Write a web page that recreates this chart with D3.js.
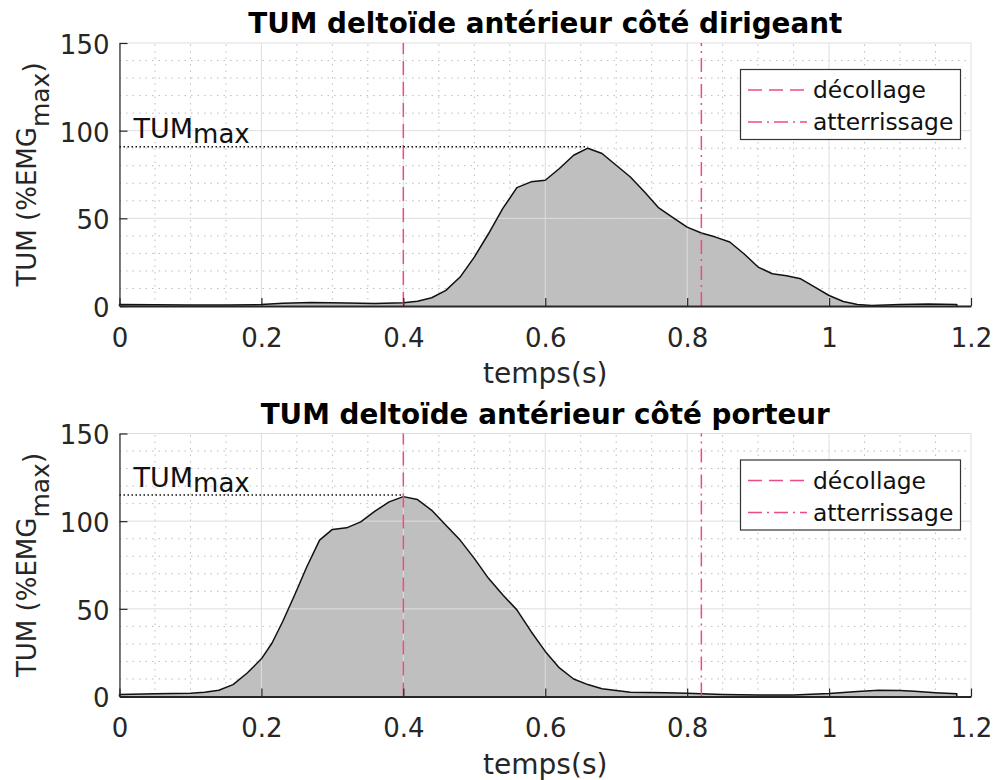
<!DOCTYPE html>
<html>
<head>
<meta charset="utf-8">
<script src="https://cdn.jsdelivr.net/npm/d3@7"></script>
<style>
  html, body { margin: 0; padding: 0; background: #fff; }
  svg { display: block; font-family: "DejaVu Sans", Verdana, sans-serif; }
</style>
</head>
<body>
<svg id="chart" width="999" height="780"></svg>
<script>
// ---- Data ----
const xTickValues = [0, 0.2, 0.4, 0.6, 0.8, 1, 1.2];
const xTickLabels = ["0", "0.2", "0.4", "0.6", "0.8", "1", "1.2"];
const yTickValues = [0, 50, 100, 150];
const yTickLabels = ["0", "50", "100", "150"];

const legendLabels = ["décollage", "atterrissage"];
const eventTimes = [0.4, 0.82];   // décollage, atterrissage (s)

const titles = ["TUM deltoïde antérieur côté dirigeant", "TUM deltoïde antérieur côté porteur"];

// Panel 1 : côté dirigeant
const timeDirigeant = [0, 0.05, 0.10, 0.15, 0.20, 0.23, 0.27, 0.32, 0.36, 0.40, 0.42, 0.44, 0.46, 0.48,
  0.50, 0.52, 0.54, 0.56, 0.58, 0.60, 0.62, 0.64, 0.66, 0.68, 0.70, 0.72, 0.74, 0.76, 0.78,
  0.80, 0.82, 0.84, 0.86, 0.88, 0.90, 0.92, 0.94, 0.96, 0.98, 1.00, 1.02, 1.04, 1.06, 1.10, 1.14, 1.18];
const tumDirigeant = [0.8, 0.7, 0.6, 0.6, 0.8, 1.5, 2.0, 1.7, 1.4, 1.8, 2.7, 4.7, 8.9, 16.5,
  27.9, 41.2, 55.5, 67.5, 70.8, 71.7, 78.4, 86.0, 90.0, 87.0, 80.3, 73.6, 65.0, 55.9, 50.4,
  45.0, 41.6, 39.3, 36.5, 29.8, 22.2, 18.4, 17.3, 15.5, 10.8, 6.0, 2.6, 0.9, 0.3, 0.9, 1.2, 0.9];

// Panel 2 : côté porteur
const timePorteur = [0, 0.05, 0.10, 0.12, 0.14, 0.16, 0.18, 0.20, 0.215, 0.23, 0.247, 0.264, 0.282,
  0.30, 0.32, 0.34, 0.36, 0.38, 0.40, 0.42, 0.44, 0.46, 0.48, 0.50, 0.52, 0.54, 0.56, 0.58,
  0.60, 0.62, 0.64, 0.66, 0.68, 0.72, 0.77, 0.80, 0.85, 0.90, 0.95, 1.00, 1.04, 1.07, 1.10, 1.12, 1.15, 1.18];
const tumPorteur = [1.1, 1.5, 1.9, 2.4, 3.6, 6.8, 13.4, 21.5, 30.5, 42.8, 58.0, 74.0, 89.2,
  95.3, 96.2, 99.6, 105.7, 111.0, 114.0, 112.3, 106.2, 97.7, 89.2, 78.8, 67.4, 58.0, 49.4, 37.1,
  25.7, 16.3, 10.0, 6.8, 4.4, 2.4, 2.1, 1.9, 1.2, 0.8, 0.8, 1.7, 2.8, 3.6, 3.4, 3.0, 2.2, 1.5];

const panels = [
  { title: titles[0], time: timeDirigeant, tum: tumDirigeant, top: 43 },
  { title: titles[1], time: timePorteur, tum: tumPorteur, top: 433.5 }
];

// ---- Layout / style ----
const plotLeft = 119.5, plotRight = 971, plotHeight = 263;
const pink = "#ee4a8a";
const axisColor = "#262626";
const svg = d3.select("#chart");

panels.forEach(p => {
  const x = d3.scaleLinear().domain([0, 1.2]).range([plotLeft, plotRight]);
  const y = d3.scaleLinear().domain([0, 150]).range([p.top + plotHeight, p.top]);
  const g = svg.append("g");
  const data = p.time.map((t, i) => ({ t, v: p.tum[i] }));

  // Area fill
  const area = d3.area().x(d => x(d.t)).y0(y(0)).y1(d => y(d.v));
  g.append("path").datum(data).attr("d", area).attr("fill", "#bfbfbf").attr("stroke", "none");

  // Minor grid
  const xMinor = d3.range(0, 1.2001, 0.05).filter(v => Math.abs(v / 0.2 - Math.round(v / 0.2)) > 1e-6);
  const yMinor = d3.range(0, 150.1, 10).filter(v => v % 50 !== 0);
  g.append("g").selectAll("line").data(xMinor).join("line")
    .attr("x1", d => x(d)).attr("x2", d => x(d)).attr("y1", y(0)).attr("y2", y(150))
    .attr("stroke", "#bdbdbd").attr("stroke-width", 1).attr("stroke-dasharray", "1.5,5");
  g.append("g").selectAll("line").data(yMinor).join("line")
    .attr("x1", x(0)).attr("x2", x(1.2)).attr("y1", d => y(d)).attr("y2", d => y(d))
    .attr("stroke", "#bdbdbd").attr("stroke-width", 1).attr("stroke-dasharray", "1.5,5");

  // Major grid
  g.append("g").selectAll("line").data(xTickValues).join("line")
    .attr("x1", d => x(d)).attr("x2", d => x(d)).attr("y1", y(0)).attr("y2", y(150))
    .attr("stroke", "#dedede").attr("stroke-width", 1);
  g.append("g").selectAll("line").data(yTickValues).join("line")
    .attr("x1", x(0)).attr("x2", x(1.2)).attr("y1", d => y(d)).attr("y2", d => y(d))
    .attr("stroke", "#dedede").attr("stroke-width", 1);

  // Curve outline (closed polygon like the filled patch)
  const outline = [{ t: p.time[0], v: 0 }, ...data, { t: p.time[p.time.length - 1], v: 0 }];
  g.append("path").datum(outline)
    .attr("d", d3.line().x(d => x(d.t)).y(d => y(d.v)))
    .attr("fill", "none").attr("stroke", "#111").attr("stroke-width", 1.5).attr("stroke-linejoin", "round");

  // Event lines
  const dashes = ["14,7", "14,5,2,5"];
  eventTimes.forEach((et, i) => {
    g.append("line").attr("x1", x(et)).attr("x2", x(et)).attr("y1", y(0)).attr("y2", y(150))
      .attr("stroke", pink).attr("stroke-width", 1.5).attr("stroke-dasharray", dashes[i]);
  });

  // TUM max dotted line
  const maxV = d3.max(p.tum);
  const maxT = p.time[p.tum.indexOf(maxV)];
  g.append("line").attr("x1", x(0)).attr("x2", x(maxT)).attr("y1", y(maxV) - 1.5).attr("y2", y(maxV) - 1.5)
    .attr("stroke", "#111").attr("stroke-width", 1.5).attr("stroke-dasharray", "1.5,2.5");
  const lbl = g.append("text").attr("x", x(0) + 14).attr("y", y(maxV) - 10)
    .attr("font-size", 27).attr("fill", "#111");
  lbl.append("tspan").text("TUM");
  lbl.append("tspan").attr("dy", 5).attr("font-size", 26).text("max");

  // Axes
  const xAxis = d3.axisBottom(x).tickValues(xTickValues).tickFormat((d, i) => xTickLabels[i])
    .tickSizeInner(-8).tickSizeOuter(0).tickPadding(22);
  const ax = g.append("g").attr("transform", `translate(0,${y(0)})`).call(xAxis);
  ax.select(".domain").attr("stroke", axisColor).attr("stroke-width", 1.8);
  ax.selectAll(".tick line").attr("stroke", axisColor).attr("stroke-width", 1.2);
  ax.selectAll(".tick text").attr("font-size", 26).attr("fill", axisColor)
    .attr("font-family", "DejaVu Sans").attr("dy", "0.72em");

  const yAxis = d3.axisLeft(y).tickValues(yTickValues).tickFormat((d, i) => yTickLabels[i])
    .tickSizeInner(-8).tickSizeOuter(0).tickPadding(10);
  const ay = g.append("g").attr("transform", `translate(${x(0)},0)`).call(yAxis);
  ay.select(".domain").attr("stroke", axisColor).attr("stroke-width", 1.2);
  ay.selectAll(".tick line").attr("stroke", axisColor).attr("stroke-width", 1.2);
  ay.selectAll(".tick text").attr("font-size", 26).attr("fill", axisColor)
    .attr("font-family", "DejaVu Sans").attr("dy", "0.4em");

  // Title
  g.append("text").attr("x", (plotLeft + plotRight) / 2).attr("y", p.top - 10)
    .attr("text-anchor", "middle").attr("font-weight", "bold").attr("font-size", 27.8)
    .attr("fill", "#000").text(p.title);

  // X label
  g.append("text").attr("x", (plotLeft + plotRight) / 2).attr("y", y(0) + 77)
    .attr("text-anchor", "middle").attr("font-size", 28).attr("fill", axisColor).text("temps(s)");

  // Y label
  const yl = g.append("text")
    .attr("transform", `translate(36,${(y(0) + y(150)) / 2}) rotate(-90)`)
    .attr("text-anchor", "middle").attr("font-size", 26).attr("fill", axisColor);
  yl.append("tspan").text("TUM (%EMG");
  yl.append("tspan").attr("dy", 13).attr("font-size", 25).text("max");
  yl.append("tspan").attr("dy", -7).text(")");

  // Legend
  const lg = g.append("g");
  lg.append("rect").attr("x", 740.5).attr("y", p.top + 26.5).attr("width", 220).attr("height", 70)
    .attr("fill", "#fff").attr("stroke", "#333").attr("stroke-width", 1.2);
  legendLabels.forEach((lab, i) => {
    const ly = p.top + 47 + i * 32;
    lg.append("line").attr("x1", 748).attr("x2", 807).attr("y1", ly).attr("y2", ly)
      .attr("stroke", pink).attr("stroke-width", 1.5).attr("stroke-dasharray", dashes[i]);
    lg.append("text").attr("x", 813).attr("y", ly + 8).attr("font-size", 23.4)
      .attr("fill", "#111").text(lab);
  });
});
</script>
</body>
</html>
